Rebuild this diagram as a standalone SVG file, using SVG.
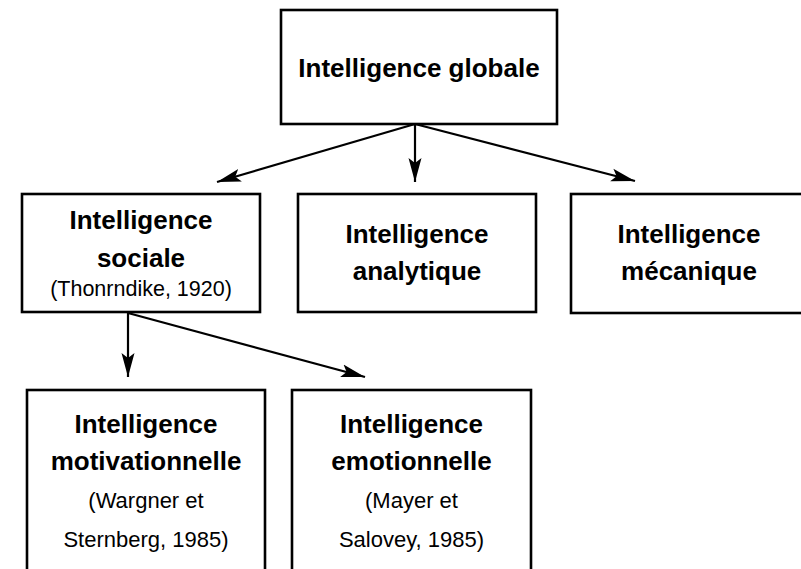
<svg xmlns="http://www.w3.org/2000/svg" width="801" height="569" viewBox="0 0 801 569">
<style>
.box{fill:#fff;stroke:#000;stroke-width:2.6}
.t{font-family:"Liberation Sans",Arial,sans-serif;font-weight:bold;font-size:26px;fill:#000;text-anchor:middle}
.s{font-family:"Liberation Sans",Arial,sans-serif;font-size:22px;fill:#000;text-anchor:middle}
.c{stroke:#000;stroke-width:2.2;fill:none;marker-end:url(#ah)}
</style>
<defs>
<marker id="ah" markerUnits="userSpaceOnUse" markerWidth="26" markerHeight="14" refX="24" refY="7" orient="auto">
<path d="M0,0.5 L24,7 L0,13.5 L5,7 z" fill="#000"/>
</marker>
</defs>
<rect width="801" height="569" fill="#fff"/>
<g id="connectors">
<line class="c" x1="415" y1="124" x2="217" y2="182"/>
<line class="c" x1="415" y1="124" x2="415" y2="182"/>
<line class="c" x1="415" y1="124" x2="635" y2="181"/>
<line class="c" x1="128" y1="313" x2="128" y2="377"/>
<line class="c" x1="128" y1="313" x2="365" y2="377"/>
</g>
<g id="globale">
<rect class="box" x="281" y="10" width="276" height="114"/>
<text class="t" x="419" y="77">Intelligence globale</text>
</g>
<g id="sociale">
<rect class="box" x="22" y="194" width="238" height="118"/>
<text class="t" x="141" y="229">Intelligence</text>
<text class="t" x="141" y="267">sociale</text>
<text class="s" x="141" y="296" style="font-size:21.5px">(Thonrndike, 1920)</text>
</g>
<g id="analytique">
<rect class="box" x="298" y="194" width="238" height="118"/>
<text class="t" x="417" y="243">Intelligence</text>
<text class="t" x="417" y="280">analytique</text>
</g>
<g id="mecanique">
<rect class="box" x="571" y="194" width="236" height="119"/>
<text class="t" x="689" y="243">Intelligence</text>
<text class="t" x="689" y="280">mécanique</text>
</g>
<g id="motivationnelle">
<rect class="box" x="27" y="390" width="238" height="190"/>
<text class="t" x="146" y="433">Intelligence</text>
<text class="t" x="146" y="470">motivationnelle</text>
<text class="s" x="146" y="508">(Wargner et</text>
<text class="s" x="146" y="547">Sternberg, 1985)</text>
</g>
<g id="emotionnelle">
<rect class="box" x="292" y="390" width="239" height="190"/>
<text class="t" x="411.5" y="433">Intelligence</text>
<text class="t" x="411.5" y="470">emotionnelle</text>
<text class="s" x="411.5" y="508">(Mayer et</text>
<text class="s" x="411.5" y="547">Salovey, 1985)</text>
</g>
</svg>
